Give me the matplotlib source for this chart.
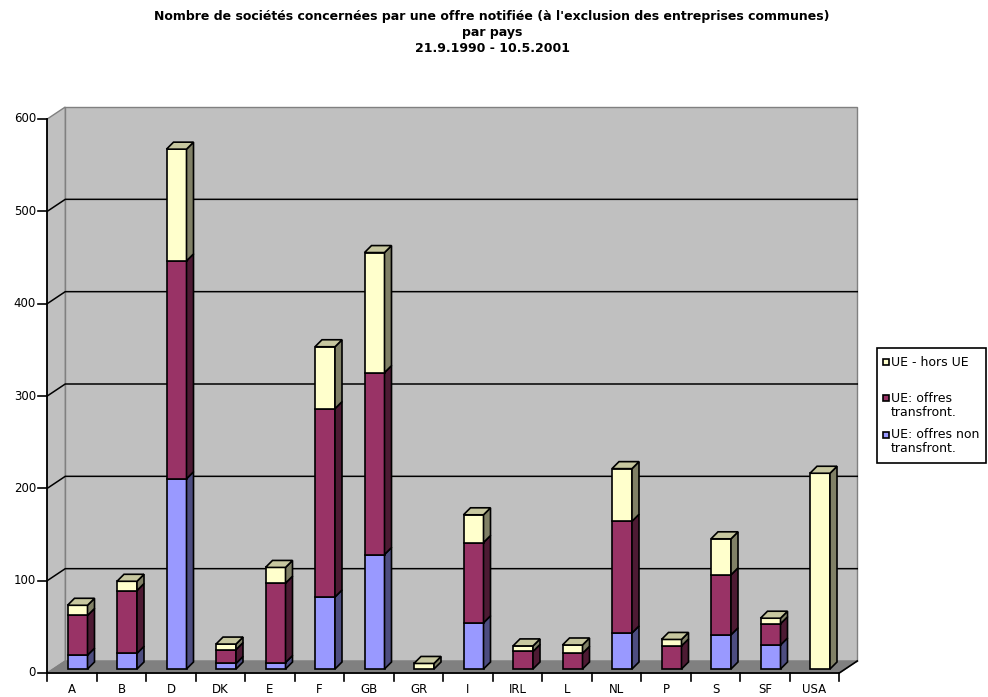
import numpy as np
import matplotlib
matplotlib.use('Agg')
import matplotlib.pyplot as plt
from matplotlib.patches import Polygon, Rectangle

# data
countries = ['A', 'B', 'D', 'DK', 'E', 'F', 'GB', 'GR', 'I', 'IRL', 'L', 'NL', 'P', 'S', 'SF', 'USA']
non_transfront = [15, 17, 206, 6, 7, 78, 124, 0, 50, 0, 0, 39, 0, 37, 26, 0]
transfront = [43, 68, 236, 15, 86, 204, 197, 0, 87, 19, 17, 121, 25, 65, 23, 0]
hors_ue = [11, 10, 121, 6, 17, 67, 130, 6, 30, 6, 9, 57, 7, 39, 6, 212]

series = [non_transfront, transfront, hors_ue]
series_names = ['UE: offres non\ntransfront.', 'UE: offres\ntransfront.', 'UE - hors UE']
colors = ['#9999FF', '#993366', '#FFFFCC']
yticks = [0, 100, 200, 300, 400, 500, 600]

title = ("Nombre de sociétés concernées par une offre notifiée (à l'exclusion des entreprises communes)\n"
         "par pays\n21.9.1990 - 10.5.2001")

W, H = 988, 697
# pixel layout of the Excel 3D frame
X0_PX, CAT_PX = 72, 49.5      # centre of first category, category step
Y0_PX, PPV = 673, 554 / 600.  # baseline, pixels per unit

def px2x(px):
    return (px - X0_PX) / CAT_PX

def py2v(py):
    return (Y0_PX - py) / PPV

# depth offsets (category units / value units)
DXW, DYW = 18 / CAT_PX, 12 / PPV   # walls
FX, FY = 5.5 / CAT_PX, 4 / PPV     # bar front face
BX, BY = 7 / CAT_PX, 7 / PPV       # bar depth
BW = 20 / CAT_PX
n = len(countries)
xl, xr = -0.5, n - 0.5
vmax = 600

def shade(c, f):
    r, g, b = matplotlib.colors.to_rgb(c)
    return (r * f, g * f, b * f)

fig = plt.figure(figsize=(W / 100, H / 100), dpi=100)
ax = fig.add_axes([0, 0, 1, 1])
ax.set_xlim(px2x(0), px2x(W))
ax.set_ylim(py2v(H), py2v(0))
ax.axis('off')

wall = '#C0C0C0'
edge = '#808080'
# back wall
ax.add_patch(Rectangle((xl + DXW, DYW), xr - xl, vmax, facecolor=wall, edgecolor=edge, lw=1, zorder=1))
# left wall
ax.add_patch(Polygon([(xl, 0), (xl + DXW, DYW), (xl + DXW, vmax + DYW), (xl, vmax)],
                     closed=True, facecolor=wall, edgecolor=edge, lw=1, zorder=1))
# floor
ax.add_patch(Polygon([(xl, 0), (xr, 0), (xr + DXW, DYW), (xl + DXW, DYW)],
                     closed=True, facecolor='#808080', edgecolor=edge, lw=1, zorder=1))
ax.plot([xr, xr + DXW], [0, DYW], color='black', lw=1.2, zorder=2)

# gridlines
for v in yticks[1:-1]:
    ax.plot([xl, xl + DXW, xr + DXW], [v, v + DYW, v + DYW], color='black', lw=1.1, zorder=2)

# stacked 3D bars
x = np.arange(n)
bottom = np.zeros(n)
top_col = [None] * n
for vals, col in zip(series, colors):
    vals = np.array(vals, dtype=float)
    mask = vals > 0
    ax.bar(x[mask] + FX, vals[mask], width=BW, bottom=FY + bottom[mask], color=col,
           edgecolor='black', lw=1.2, zorder=3)
    for i in np.where(mask)[0]:
        x1 = i + FX + BW / 2
        b = FY + bottom[i]
        t = b + vals[i]
        ax.add_patch(Polygon([(x1, b), (x1 + BX, b + BY), (x1 + BX, t + BY), (x1, t)], closed=True,
                             facecolor=shade(col, 0.5), edgecolor='black', lw=1.2, zorder=3))
        top_col[i] = col
    bottom += vals
for i in range(n):
    x0 = i + FX - BW / 2
    t = FY + bottom[i]
    ax.add_patch(Polygon([(x0, t), (x0 + BW, t), (x0 + BW + BX, t + BY), (x0 + BX, t + BY)], closed=True,
                         facecolor=shade(top_col[i], 0.78), edgecolor='black', lw=1.2, zorder=4))

# axes lines, ticks and labels
ax.plot([xl, xl], [0, vmax], color='black', lw=1.3, zorder=5)
ax.plot([xl, xr], [0, 0], color='black', lw=1.3, zorder=5)
for v in yticks:
    ax.plot([px2x(38), xl], [v, v], color='black', lw=1.2, zorder=5)
    ax.text(px2x(36), v, str(v), ha='right', va='center', fontsize=8.5, zorder=5)
for i in range(n + 1):
    ax.plot([i - 0.5, i - 0.5], [0, py2v(Y0_PX + 8)], color='black', lw=1.2, zorder=5)
for i, c in enumerate(countries):
    ax.text(i, py2v(683), c, ha='center', va='top', fontsize=8.5, zorder=5)

# title
ax.text(px2x(492), py2v(10), title, ha='center', va='top', fontsize=9, fontweight='bold',
        linespacing=1.3)

# legend
ax.add_patch(Rectangle((px2x(877), py2v(463)), px2x(986) - px2x(877), py2v(348) - py2v(463),
                       facecolor='white', edgecolor='black', lw=1.2, zorder=5))
leg_y = [362, 398, 435]
for name, col, yy in zip(series_names[::-1], colors[::-1], leg_y):
    ax.add_patch(Rectangle((px2x(883), py2v(yy + 3)), px2x(889) - px2x(883), py2v(yy - 3) - py2v(yy + 3),
                           facecolor=col, edgecolor='black', lw=1.2, zorder=6))
    for k, ln in enumerate(name.split('\n')):
        ax.text(px2x(891), py2v(yy + 14 * k), ln, ha='left', va='center', fontsize=9, zorder=6)

fig.savefig('out.png', dpi=100)
